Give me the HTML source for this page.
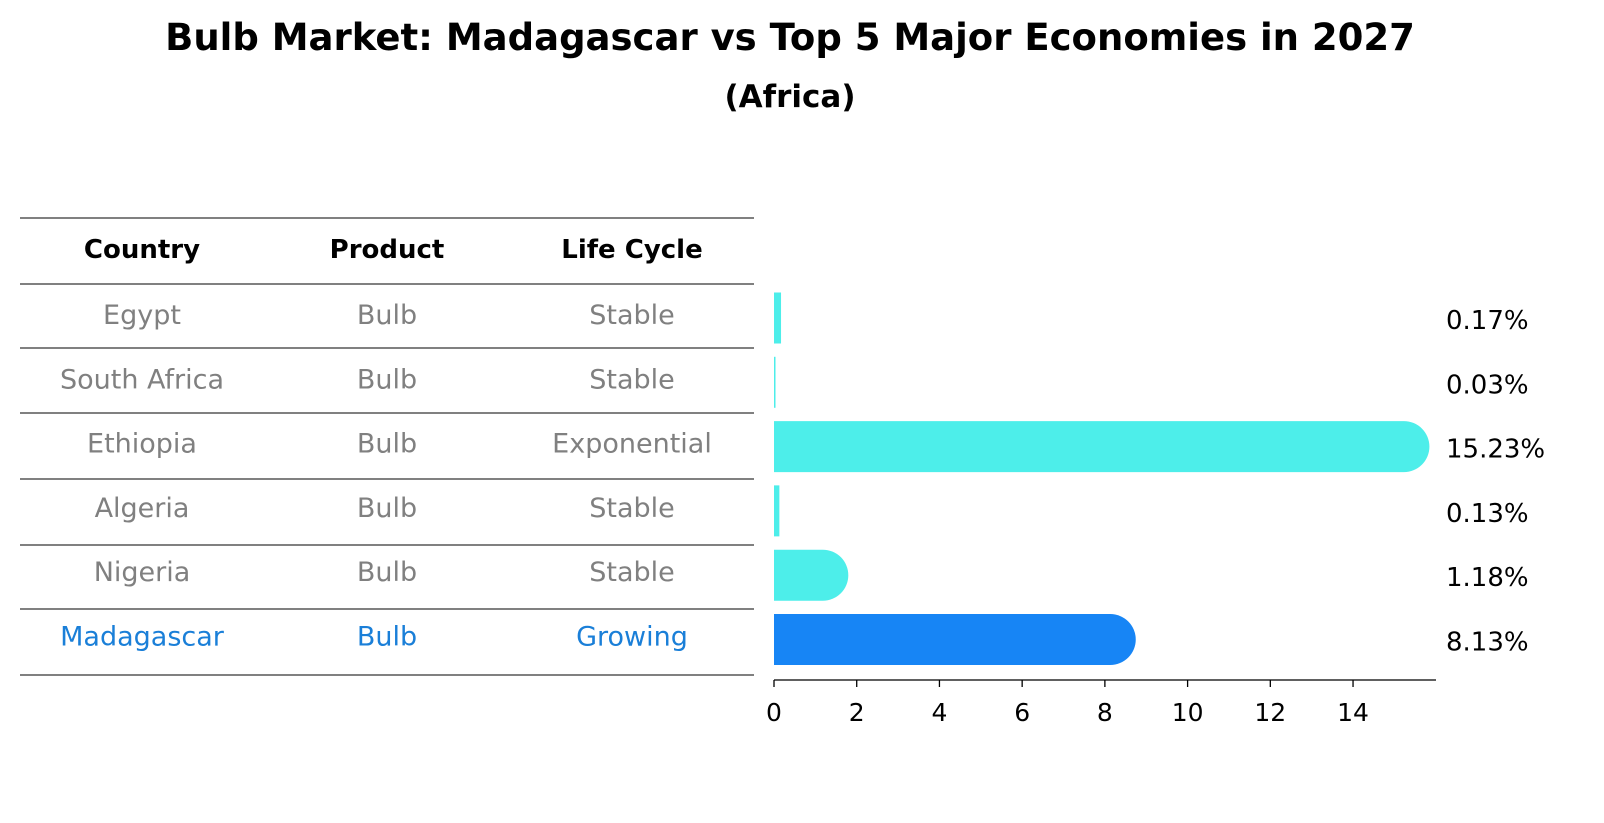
<!DOCTYPE html>
<html><head><meta charset="utf-8"><style>
html,body{margin:0;padding:0;background:#fff;overflow:hidden;width:1604px;height:823px;}
svg{display:block;}
</style></head><body>
<svg width="1604" height="823" viewBox="0 0 1604 823" xmlns="http://www.w3.org/2000/svg" font-family="DejaVu Sans, Liberation Sans, sans-serif">
<text x="790" y="50" text-anchor="middle" font-size="37" font-weight="bold">Bulb Market: Madagascar vs Top 5 Major Economies in 2027</text>
<text x="790" y="107" text-anchor="middle" font-size="31" font-weight="bold">(Africa)</text>
<g id="table"></g>
<g id="bars"></g>
</svg>
<script>
const countries=["Egypt","South Africa","Ethiopia","Algeria","Nigeria","Madagascar"];
const products=["Bulb","Bulb","Bulb","Bulb","Bulb","Bulb"];
const lifeCycles=["Stable","Stable","Exponential","Stable","Stable","Growing"];
const values=[0.17,0.03,15.23,0.13,1.18,8.13];
const ticks=[0,2,4,6,8,10,12,14];
const NS="http://www.w3.org/2000/svg";
const x0=774, unit=41.36;
const xs=v=>x0+v*unit;
const rowY=i=>318+i*64.3;
function mk(tag,attrs,parent){const e=document.createElementNS(NS,tag);for(const k in attrs)e.setAttribute(k,attrs[k]);parent.appendChild(e);return e;}
const tbl=document.getElementById('table');
const lines=[218,284,348,413,479,545,609,675];
lines.forEach(y=>{const l=mk('line',{x1:20,x2:754,y1:y,y2:y,stroke:'#000','stroke-width':1},tbl);

});
const cx=[142,387,632];
["Country","Product","Life Cycle"].forEach((h,j)=>{const t=mk('text',{x:cx[j],y:258,'text-anchor':'middle','font-size':26,'font-weight':'bold'},tbl);t.textContent=h;

});
countries.forEach((c,i)=>{const col=c==="Madagascar"?"#1a7fd8":"#808080";
[c,products[i],lifeCycles[i]].forEach((v,j)=>{const t=mk('text',{x:cx[j],y:rowY(i)+6,'text-anchor':'middle','font-size':27,fill:col},tbl);t.textContent=v;

});});
const g=document.getElementById('bars');
values.forEach((v,i)=>{const col=countries[i]==="Madagascar"?"#1785f5":"#4deeea";
const yc=rowY(i),h=51,r=25.5,xe=xs(v);
let d;
if(v>1){d=`M${x0},${yc-h/2} L${xe},${yc-h/2} A${r},${r} 0 0 1 ${xe},${yc+h/2} L${x0},${yc+h/2} Z`;}
else{d=`M${x0},${yc-h/2} L${Math.max(xe,x0+1.5)},${yc-h/2} L${Math.max(xe,x0+1.5)},${yc+h/2} L${x0},${yc+h/2} Z`;}
const p=mk('path',{d:d,fill:col},g);


const t=mk('text',{x:1446,y:yc+11,'font-size':26},g);t.textContent=v.toFixed(2)+'%';

});
const ax=mk('line',{x1:x0,x2:1436,y1:680,y2:680,stroke:'#000','stroke-width':1.3},g);


ticks.forEach(tv=>{const x=xs(tv);mk('line',{x1:x,x2:x,y1:680,y2:687,stroke:'#000','stroke-width':1.3},g);
const t=mk('text',{x:x,y:721,'text-anchor':'middle','font-size':25},g);t.textContent=tv;

});
</script>
</body></html>
